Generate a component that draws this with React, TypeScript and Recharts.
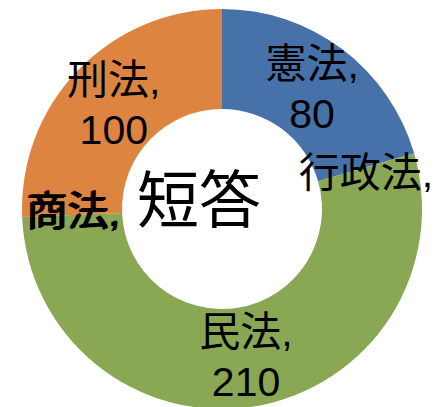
import React from "react";
import { PieChart, Pie, Cell } from "recharts";

const categories = ["憲法", "行政法", "民法", "商法", "刑法"];
const values = [80, 0, 210, 0, 100];
const colors = ["#4672A9", "#4672A9", "#8AA753", "#DD8441", "#DD8441"];
const centerTitle = "短答";

const data = categories.map((name, i) => ({ name, value: values[i] }));

const RAD = Math.PI / 180;
const FONT = "'Liberation Sans', 'Noto Sans CJK JP', sans-serif";

const renderLabel = (props: any) => {
  const { cx, cy, midAngle, innerRadius, outerRadius, index } = props;
  const r = (innerRadius + outerRadius) / 2;
  const x = cx + r * Math.cos(-midAngle * RAD);
  const y = cy + r * Math.sin(-midAngle * RAD);
  const d = data[index];
  if (d.value === 0) {
    const leftSide = x < cx;
    const dy = leftSide ? -3 : 6;
    return (
      <g key={`l-${index}`}>
        <text x={x} y={y + dy} textAnchor="middle" dominantBaseline="central" fontSize={41} fontFamily={FONT} fill="#000">
          {d.name + ","}
        </text>
        {leftSide && (
          <text x={x + 2} y={y + dy - 1} textAnchor="middle" dominantBaseline="central" fontSize={41} fontFamily={FONT} fill="#000">
            {d.name + ","}
          </text>
        )}
      </g>
    );
  }
  return (
    <g key={`l-${index}`}>
      <text x={x} y={y - 25} textAnchor="middle" dominantBaseline="central" fontSize={41} fontFamily={FONT} fill="#000">
        {d.name + ","}
      </text>
      <text x={x} y={y + 25} textAnchor="middle" dominantBaseline="central" fontSize={41} fontFamily={FONT} fill="#000">
        {String(d.value)}
      </text>
    </g>
  );
};

export default function App() {
  return (
    <div style={{ position: "absolute", left: 0, top: 0, width: 446, height: 407, background: "#fff" }}>
      <PieChart width={446} height={407} margin={{ top: 0, right: 0, bottom: 0, left: 0 }}>
        <Pie
          data={data}
          dataKey="value"
          nameKey="name"
          cx={222}
          cy={209}
          innerRadius={100}
          outerRadius={200}
          startAngle={90}
          endAngle={-270}
          stroke="none"
          label={renderLabel}
          labelLine={false}
          isAnimationActive={false}
        >
          {data.map((d, i) => (
            <Cell key={d.name} fill={colors[i]} />
          ))}
        </Pie>
        <text x={199} y={201} textAnchor="middle" dominantBaseline="central" fontSize={62} fontFamily={FONT} fill="#000">
          {centerTitle}
        </text>
      </PieChart>
    </div>
  );
}
